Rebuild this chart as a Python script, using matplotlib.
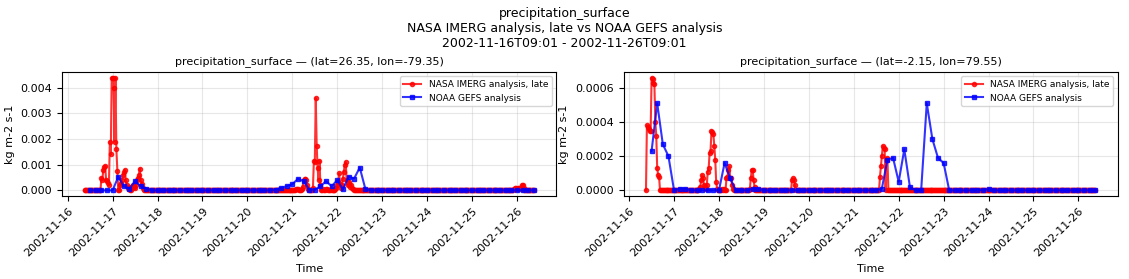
import numpy as np
import pandas as pd
import matplotlib
matplotlib.use("Agg")
import matplotlib.pyplot as plt
import matplotlib.dates as mdates

# half-hourly IMERG (red) and 3-hourly GEFS (blue); zeros everywhere except the listed bursts
imerg_start, imerg_end = "2002-11-16 09:00", "2002-11-26 09:00"
gefs_start, gefs_end = "2002-11-16 12:00", "2002-11-26 09:00"

left_title = "precipitation_surface \u2014 (lat=26.35, lon=-79.35)"
right_title = "precipitation_surface \u2014 (lat=-2.15, lon=79.55)"

left_imerg = {
    "2002-11-16 18:00": [0.0005, 0.0004, 0.0008, 0.0009, 0.00095, 0.0004, 0.00035, 0.0003, 0.0002,
                         0.0019, 0.0014, 0.0044, 0.0044, 0.004, 0.0019, 0.0044, 0.0016, 0.00075,
                         0.0, 0.00002, 0.0002, 0.0003, 0.0004, 0.0006, 0.0007, 0.0008, 0.0004, 0.0002,
                         0.0001, 0.00013, 0.00005, 0.0, 0.0, 0.0001, 0.0002, 0.00013, 0.0001, 0.0002,
                         0.0004, 0.0005, 0.0006, 0.00085, 0.0004, 0.00026, 0.0001, 0.00005],
    "2002-11-21 02:00": [0.00005, 0.00006, 0.00004, 0.00002, 0.00001, 0.00002, 0.00004, 0.00015,
                         0.0004, 0.00045, 0.00046, 0.0004, 0.0002, 0.00005, 0.00001, 0.0, 0.0,
                         0.00002, 0.0001, 0.00116, 0.0011, 0.0036, 0.00175, 0.00086, 0.0004, 0.00116,
                         0.0002, 0.00003, 0.0, 0.00005, 0.00002, 0.0, 0.00004, 0.00006, 0.00002, 0.0,
                         0.00003, 0.00005, 0.00001, 0.0, 0.0, 0.00002, 0.00005, 0.0001, 0.0002,
                         0.00033, 0.00066, 0.00026, 0.0001, 0.0002, 0.00046, 0.00073, 0.001, 0.0011,
                         0.0004, 0.0002, 0.00033, 0.00026, 0.00013, 0.0002, 0.0001, 0.00007,
                         0.00003, 0.00001],
    "2002-11-25 22:30": [0.00005, 0.0001, 0.0001, 0.00005, 0.00008, 0.0001, 0.00005, 0.0001,
                         0.0002, 0.00022, 0.0001, 0.00003],
}
left_gefs = {
    "2002-11-17 03:00": [0.00053, 0.00016, 0.00007, 0.00036, 0.00016, 0.00007],
    "2002-11-20 15:00": [0.00003, 0.0001, 0.00016, 0.00024, 0.00045, 0.00036, 0.00003, 0.00003,
                         0.00016, 0.00036, 0.00016, 0.0004, 0.00004, 0.00053, 0.00046, 0.00089,
                         0.00006],
}

right_imerg = {
    "2002-11-16 09:30": [0.00038, 0.00037, 0.00036, 0.00035, 0.00035, 0.00066, 0.00065, 0.00063,
                         0.00062, 0.0004, 0.00032, 0.00013, 0.00009, 0.00008],
    "2002-11-17 13:30": [0.00001, 0.00002, 0.00006, 0.00009, 0.00007, 0.00003, 0.00002, 0.00001,
                         0.00003, 0.00011, 0.00013, 0.00022, 0.00023, 0.00035, 0.00034, 0.00033,
                         0.00026, 0.00018, 0.00005, 0.00001],
    "2002-11-18 01:30": [0.00001, 0.0, 0.00001, 0.0, 0.0, 0.00007, 0.00008, 0.00012, 0.00014,
                         0.00007, 0.00007, 0.00003, 0.00001],
    "2002-11-18 16:30": [0.00001, 0.00007, 0.00012, 0.00012, 0.00006, 0.00002],
    "2002-11-19 15:00": [0.00006, 0.00007, 0.00006, 0.00003],
    "2002-11-21 14:00": [0.00008, 0.00014, 0.0002, 0.00026, 0.00025, 0.00024, 0.0, 0.00019,
                         0.00018, 0.0],
}
right_gefs = {
    "2002-11-16 12:00": [0.00023, 0.00051, 0.00027, 0.0002, 0.0, 0.00001, 0.00001],
    "2002-11-18 03:00": [0.00016, 0.00007],
    "2002-11-18 18:00": [0.00001, 0.00001],
    "2002-11-21 15:00": [0.00001, 0.00018, 0.00019, 0.00005, 0.00024, 0.00002, 0.0, 0.0,
                         0.00051, 0.0003, 0.00019, 0.00016],
    "2002-11-23 18:00": [0.000005, 0.0, 0.000008],
}


def build(start, end, freq, events):
  s = pd.Series(0.0, index=pd.date_range(start, end, freq=freq))
  for t0, vals in events.items():
    idx = pd.date_range(t0, periods=len(vals), freq=freq)
    s.loc[idx] = vals
  return s


fig, axes = plt.subplots(1, 2, figsize=(11.29, 2.79), dpi=100)
fig.subplots_adjust(left=0.055, right=0.99, top=0.742, bottom=0.2975, wspace=0.136)
fig.suptitle("precipitation_surface\nNASA IMERG analysis, late vs NOAA GEFS analysis\n"
             "2002-11-16T09:01 - 2002-11-26T09:01", fontsize=9, y=0.975)

for ax, title, imerg, gefs in [(axes[0], left_title, left_imerg, left_gefs),
                               (axes[1], right_title, right_imerg, right_gefs)]:
  red = build(imerg_start, imerg_end, "30min", imerg)
  blue = build(gefs_start, gefs_end, "3h", gefs)
  ax.plot(red.index, red.values, color="red", marker="o", markersize=3, linewidth=1.5,
          alpha=0.8, label="NASA IMERG analysis, late")
  ax.plot(blue.index, blue.values, color="blue", marker="s", markersize=3.5, linewidth=1.5,
          alpha=0.8, label="NOAA GEFS analysis")
  ax.set_title(title, fontsize=8)
  ax.set_xlabel("Time", fontsize=8)
  ax.set_ylabel("kg m-2 s-1", fontsize=8)
  ax.grid(True, alpha=0.3)
  ax.legend(loc="upper right", fontsize=6.5)
  ax.xaxis.set_major_locator(mdates.DayLocator())
  ax.xaxis.set_major_formatter(mdates.DateFormatter("%Y-%m-%d"))
  ax.tick_params(labelsize=8)
  plt.setp(ax.get_xticklabels(), rotation=45, ha="right", rotation_mode="anchor")

fig.savefig("out.png", dpi=100)
